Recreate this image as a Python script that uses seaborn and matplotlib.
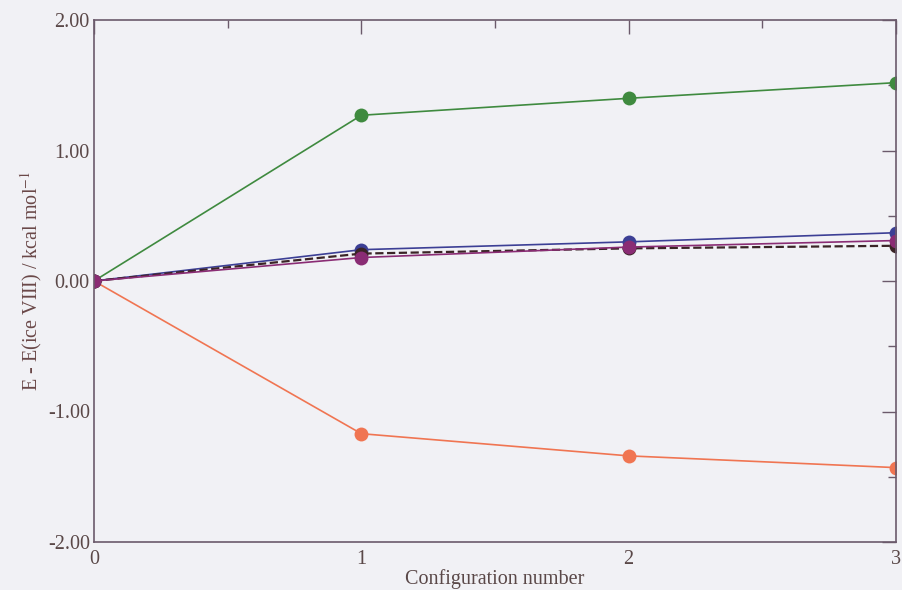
import matplotlib
matplotlib.use("Agg")
import matplotlib.pyplot as plt
import seaborn as sns
import pandas as pd
from matplotlib.ticker import MultipleLocator, FormatStrFormatter

config = [0, 1, 2, 3]
green = [0.00, 1.27, 1.40, 1.52]
orange = [0.00, -1.17, -1.34, -1.43]
blue = [0.00, 0.24, 0.30, 0.37]
dashed = [0.00, 0.21, 0.25, 0.27]
purple = [0.00, 0.18, 0.26, 0.31]

sns.set_style("white")
plt.rcParams['font.family'] = ['Liberation Serif', 'DejaVu Serif']
plt.rcParams['mathtext.fontset'] = 'stix'

fig = plt.figure(figsize=(9.02, 5.90), dpi=100)
fig.patch.set_facecolor('#f1f1f5')
ax = fig.add_axes([94/902, 48/590, 802/902, 522/590])
ax.set_facecolor('#f1f1f5')

series = [
    (green, '#3f8a3f', '-'),
    (orange, '#f07552', '-'),
    (blue, '#3c3f95', '-'),
    (dashed, '#3a2426', '--'),
    (purple, '#8a2c74', '-'),
]
for vals, col, ls in series:
    df = pd.DataFrame({'x': config, 'y': vals})
    sns.lineplot(data=df, x='x', y='y', ax=ax, color=col, linestyle=ls,
                 linewidth=1.6 if ls == '--' else 1.2, marker='o', markersize=10,
                 markeredgewidth=0, markerfacecolor=col)

axis_col = '#6b5a6b'
ax.set_xlim(0, 3)
ax.set_ylim(-2, 2)
ax.xaxis.set_major_locator(MultipleLocator(1))
ax.xaxis.set_minor_locator(MultipleLocator(0.5))
ax.yaxis.set_major_locator(MultipleLocator(1))
ax.yaxis.set_minor_locator(MultipleLocator(0.5))
ax.yaxis.set_major_formatter(FormatStrFormatter('%.2f'))
ax.tick_params(which='both', direction='in', top=True, right=True, color=axis_col,
               labelcolor='#5a4848', labelsize=14.5)
ax.tick_params(which='major', length=10, width=1)
ax.tick_params(which='minor', length=6, width=1)
ax.tick_params(axis='x', pad=5.5)
ax.tick_params(axis='y', pad=3)
for s in ax.spines.values():
    s.set_color(axis_col)
    s.set_linewidth(1.2)
ax.set_xlabel('Configuration number', fontsize=14.5, color='#5a4848', labelpad=0)
ax.set_ylabel('E - E(ice VIII) / kcal mol$^{-1}$', fontsize=14.5, color='#6a4848', labelpad=3)
ax.grid(False)

fig.savefig('out.png', dpi=100, facecolor=fig.get_facecolor())
